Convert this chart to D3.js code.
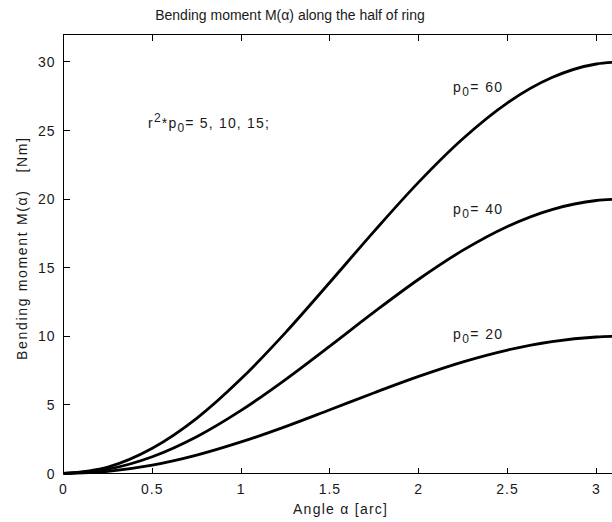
<!DOCTYPE html>
<html>
<head>
<meta charset="utf-8">
<script src="https://cdn.jsdelivr.net/npm/d3@7"></script>
<style>
  body { margin: 0; background: #fff; }
  svg { display: block; font-family: "Liberation Sans", Arial, sans-serif; }
</style>
</head>
<body>
<div id="chart"></div>
<script>
// angle samples [arc] and bending moment [Nm]
var alpha = [0, 0.25, 0.5, 0.75, 1.0, 1.25, 1.5, 1.75, 2.0, 2.25, 2.5, 2.75, 3.0, 3.1416];
var m60 = [0, 0.47, 1.84, 4.02, 6.90, 10.27, 13.94, 17.67, 21.24, 24.42, 27.02, 28.86, 29.85, 30.0];
var m40 = [0, 0.31, 1.22, 2.68, 4.60, 6.85, 9.29, 11.78, 14.16, 16.28, 18.01, 19.24, 19.90, 20.0];
var m20 = [0, 0.16, 0.61, 1.34, 2.30, 3.42, 4.65, 5.89, 7.08, 8.14, 9.00, 9.62, 9.95, 10.0];
var xTicks = [0, 0.5, 1, 1.5, 2, 2.5, 3];
var yTicks = [0, 5, 10, 15, 20, 25, 30];
var curveLabels = ["60", "40", "20"];

var width = 612, height = 522;
var axLeft = 63.5, axTop = 34.5, axBottom = 473.5;
var axRight = axLeft + Math.PI * 177.6;   // axes box runs past the window edge

var svg = d3.select('#chart').append('svg')
    .attr('width', width)
    .attr('height', height);

var x = d3.scaleLinear().domain([0, Math.PI]).range([axLeft, axRight]);
var y = d3.scaleLinear().domain([0, 32]).range([axBottom, axTop]);

// box
svg.append('rect')
    .attr('x', axLeft).attr('y', axTop)
    .attr('width', axRight - axLeft).attr('height', axBottom - axTop)
    .attr('fill', 'none').attr('stroke', '#000').attr('stroke-width', 1)
    .attr('shape-rendering', 'crispEdges');

// ticks, pointing inward on all sides
var tickLen = 6;
var g = svg.append('g').attr('stroke', '#000').attr('shape-rendering', 'crispEdges');
xTicks.forEach(function(t) {
    g.append('line').attr('x1', x(t)).attr('x2', x(t)).attr('y1', axBottom).attr('y2', axBottom - tickLen);
    g.append('line').attr('x1', x(t)).attr('x2', x(t)).attr('y1', axTop).attr('y2', axTop + tickLen);
});
yTicks.forEach(function(t) {
    g.append('line').attr('x1', axLeft).attr('x2', axLeft + tickLen).attr('y1', y(t)).attr('y2', y(t));
    g.append('line').attr('x1', axRight).attr('x2', axRight - tickLen).attr('y1', y(t)).attr('y2', y(t));
});

var fs = 14;
var ink = '#1a1a1a';
svg.selectAll('.xlab').data(xTicks).enter().append('text')
    .attr('x', function(d) { return x(d); })
    .attr('y', axBottom + 20)
    .attr('text-anchor', 'middle')
    .attr('font-size', fs)
    .attr('letter-spacing', 1)
    .attr('fill', ink)
    .text(function(d) { return d; });
svg.selectAll('.ylab').data(yTicks).enter().append('text')
    .attr('x', axLeft - 8)
    .attr('y', function(d) { return y(d) + 5; })
    .attr('text-anchor', 'end')
    .attr('font-size', fs)
    .attr('letter-spacing', 1)
    .attr('fill', ink)
    .text(function(d) { return d; });

// curves
var series = [m60, m40, m20];
var line = d3.line()
    .x(function(d) { return x(d[0]); })
    .y(function(d) { return y(d[1]); })
    .curve(d3.curveMonotoneX);
series.forEach(function(s) {
    svg.append('path')
        .datum(alpha.map(function(a, i) { return [a, s[i]]; }))
        .attr('d', line)
        .attr('fill', 'none')
        .attr('stroke', '#000')
        .attr('stroke-width', 2.8)
        .attr('stroke-linejoin', 'round');
});

// title and axis labels
svg.append('text')
    .attr('x', 290).attr('y', 20)
    .attr('text-anchor', 'middle').attr('font-size', fs).attr('fill', ink)
    .text('Bending moment M(α) along the half of ring');
svg.append('text')
    .attr('x', 293).attr('y', 514)
    .attr('font-size', fs).attr('fill', ink)
    .attr('textLength', 94).attr('lengthAdjust', 'spacing')
    .text('Angle α [arc]');
svg.append('text')
    .attr('transform', 'translate(27,360) rotate(-90)')
    .attr('font-size', fs).attr('fill', ink)
    .attr('xml:space', 'preserve')
    .attr('textLength', 222).attr('lengthAdjust', 'spacing')
    .text('Bending moment M(α)   [Nm]');

// p0 labels
var labelY = [92, 214, 339];
curveLabels.forEach(function(v, i) {
    var t = svg.append('text')
        .attr('x', 453).attr('y', labelY[i])
        .attr('font-size', fs).attr('fill', ink)
        .attr('letter-spacing', 1.4);
    t.append('tspan').text('p');
    t.append('tspan').attr('dy', 4).attr('font-size', 12).text('0');
    t.append('tspan').attr('dy', -4).text('= ' + v);
});

var r = svg.append('text')
    .attr('x', 148).attr('y', 128)
    .attr('font-size', fs).attr('fill', ink)
    .attr('letter-spacing', 1.2);
r.append('tspan').text('r');
r.append('tspan').attr('dy', -6).attr('font-size', 12).text('2');
r.append('tspan').attr('dy', 6).text('*p');
r.append('tspan').attr('dy', 4).attr('font-size', 12).text('0');
r.append('tspan').attr('dy', -4).text('= 5, 10, 15;');
</script>
</body>
</html>
